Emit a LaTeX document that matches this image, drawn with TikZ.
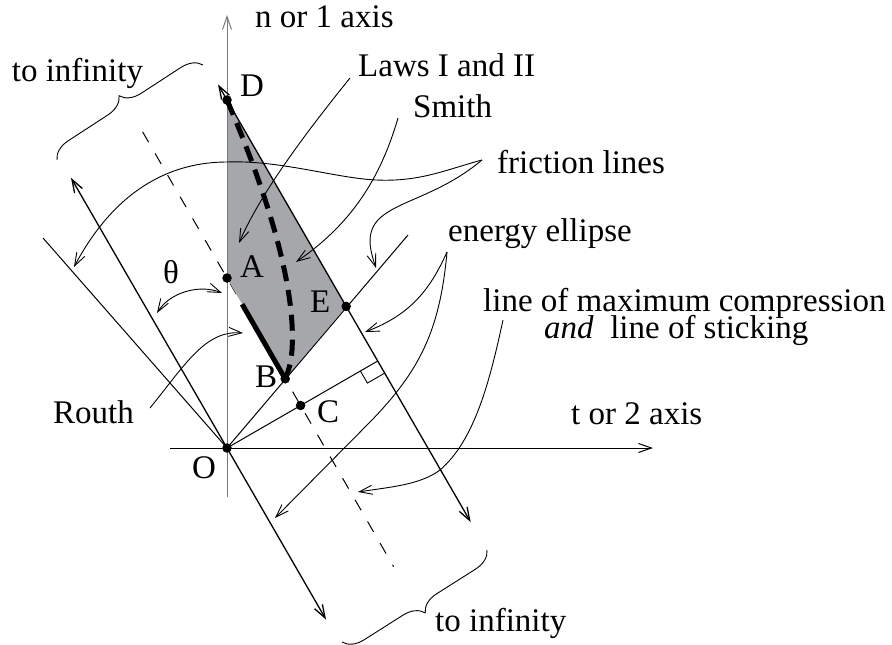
\documentclass[tikz,border=0pt]{standalone}
\usepackage{fontspec}
\setmainfont{Liberation Serif}
\usetikzlibrary{arrows.meta,decorations.pathreplacing}
\definecolor{regiongray}{RGB}{166,167,170}
\definecolor{axisgray}{RGB}{120,120,120}
\begin{document}
\begin{tikzpicture}[x=1pt,y=-1pt,
  lbl/.style={anchor=base west,inner sep=0pt,font=\fontsize{33}{40}\selectfont},
  mainln/.style={line width=1.3pt},
  thinln/.style={line width=1pt},
  ann/.style={line width=0.9pt},
  tipend/.style={-{Straight Barb[length=13pt,width=9pt]}},
  tipboth/.style={{Straight Barb[length=13pt,width=9pt]}-{Straight Barb[length=13pt,width=9pt]}},
  dotnode/.style={circle,fill=black,inner sep=0pt,minimum size=9.5pt},
  bracedeco/.style={decorate,decoration={brace,amplitude=20pt},line width=0.9pt}]
\useasboundingbox (0,0) rectangle (892,645);
% key points
\coordinate (O) at (227,448);
\coordinate (D) at (227,100);
\coordinate (A) at (227,278);
\coordinate (E) at (346.2,306.4);
\coordinate (B) at (285.2,378.8);
\coordinate (C) at (300.6,405.5);
\coordinate (F) at (377.7,361);
% dashed line of maximum compression
\coordinate (dashtop) at (142.6,131.8);
\coordinate (dashbot) at (393.6,566.6);
\draw[thinln,dash pattern=on 12pt off 13pt] (dashtop) -- (dashbot);
% shaded region
\fill[regiongray] (D) -- (E) -- (B) -- (A) -- cycle;
% axes
\coordinate (vbot) at (227,497);
\coordinate (vtop) at (227,15);
\coordinate (hleft) at (170,448);
\coordinate (hright) at (653,448);
\draw[thinln,axisgray,tipend] (vbot) -- (vtop);
\draw[thinln,tipend] (hleft) -- (hright);
% lines through O and E
\coordinate (Oup) at (71,177.8);
\coordinate (Odown) at (326,619.5);
\draw[mainln,tipboth] (Oup) -- (Odown);
\coordinate (Eup) at (218,84.4);
\coordinate (Edown) at (470.7,522.1);
\draw[mainln,tipboth] (Eup) -- (Edown);
% friction lines
\coordinate (frR) at (408,235);
\coordinate (frL) at (43,238);
\draw[thinln] (O) -- (frR);
\draw[thinln] (O) -- (frL);
% perpendicular O-F with right angle mark
\draw[thinln] (O) -- (F);
\coordinate (m1) at (360.4,371);
\coordinate (m2) at (367.4,383.1);
\coordinate (m3) at (384.7,373.1);
\draw[ann] (m1) -- (m2) -- (m3);
% Routh thick segment
\coordinate (r1) at (242.1,304.2);
\coordinate (r2) at (283.6,376.1);
\draw[line width=5pt] (r1) -- (r2);
% thick dashed curve
\draw[line width=5pt,dash pattern=on 16pt off 9pt] (D) .. controls (270,200) and (296,290) .. (292,350) .. controls (291,362) and (289,370) .. (B);
% dots
\foreach \p in {O,D,A,E,B,C} \node[dotnode] (dot\p) at (\p) {};
% annotation curves
\draw[ann,tipend] (350,78) .. controls (300,140) and (260,195) .. (239,243);
\draw[ann,tipend] (398,118) .. controls (380,180) and (350,225) .. (296,262);
\draw[ann,tipend] (482,160) .. controls (445,170) and (420,182) .. (376,180) .. controls (335,178) and (280,160) .. (227,162) .. controls (170,162) and (115,190) .. (74,267);
\draw[ann,tipend] (482,160) .. controls (440,195) and (400,200) .. (380,218) .. controls (365,232) and (370,250) .. (376,268);
\draw[ann,tipend] (447,252) .. controls (430,290) and (410,315) .. (365,332);
\draw[ann,tipend] (447,252) .. controls (440,330) and (420,370) .. (372,420) -- (275,518);
\draw[ann,tipend] (503,320) .. controls (490,380) and (475,440) .. (440,470) .. controls (420,485) and (390,487) .. (358,492);
\draw[ann,tipboth] (157,313) .. controls (170,292) and (200,284) .. (222,293);
\draw[ann,tipend] (150,408) .. controls (185,365) and (205,330) .. (243,333);
% braces
\coordinate (b1a) at (57,160);
\coordinate (b1b) at (203,65);
\draw[bracedeco] (b1a) -- (b1b);
\coordinate (b2a) at (487,550);
\coordinate (b2b) at (342,642);
\draw[bracedeco] (b2a) -- (b2b);
% labels
\node[lbl] (tn) at (255,27.3) {n or 1 axis};
\node[lbl] (tinf1) at (11.7,81.7) {to infinity};
\node[lbl] (tlaws) at (358,76) {Laws I and II};
\node[lbl] (tsmith) at (413,117) {Smith};
\node[lbl] (tfric) at (497,173) {friction lines};
\node[lbl] (tener) at (448,241.7) {energy ellipse};
\node[lbl] (tmax) at (483,311.7) {line of maximum compression};
\node[lbl] (tstick) at (544,338.3) {\textit{and}\enspace line of sticking};
\node[lbl] (tt) at (571,424) {t or 2 axis};
\node[lbl] (tinf2) at (435,631.7) {to infinity};
\node[lbl] (ttheta) at (163,283) {θ};
\node[lbl] (tD) at (240,96.7) {D};
\node[lbl] (tA) at (240,277.3) {A};
\node[lbl] (tE) at (310,312.7) {E};
\node[lbl] (tB) at (255,387.3) {B};
\node[lbl] (tC) at (317,422.7) {C};
\node[lbl] (tO) at (192,478.3) {O};
\node[lbl] (trouth) at (53,423.3) {Routh};
\end{tikzpicture}
\end{document}
